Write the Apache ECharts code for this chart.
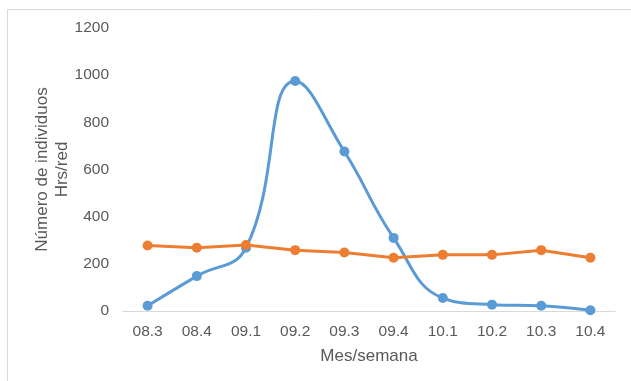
<!DOCTYPE html>
<html>
<head>
<meta charset="utf-8">
<script src="https://cdn.jsdelivr.net/npm/echarts@6/dist/echarts.min.js"></script>
<style>
  html, body { margin: 0; padding: 0; background: #ffffff; }
  #chart { width: 631px; height: 381px; }
</style>
</head>
<body>
<div id="chart"></div>
<script>
// Week labels (month.week)
const weeks = ['08.3', '08.4', '09.1', '09.2', '09.3', '09.4', '10.1', '10.2', '10.3', '10.4'];
// Individuals per net-hour, two series
const seriesBlue = [22, 148, 268, 975, 676, 310, 55, 27, 22, 3];
const seriesOrange = [278, 268, 280, 258, 248, 226, 238, 238, 258, 226];
// Value axis range
const yMin = 0;
const yMax = 1200;
const yStep = 200;

const textColor = '#595959';
const fontFamily = '"Liberation Sans", Arial, sans-serif';

const chart = echarts.init(document.getElementById('chart'), null, { renderer: 'canvas' });

chart.setOption({
  animation: false,
  backgroundColor: '#ffffff',
  graphic: [{
    type: 'rect',
    shape: { x: 7.5, y: 9.5, width: 700, height: 500 },
    style: { fill: 'none', stroke: '#d9d9d9', lineWidth: 1 },
    silent: true,
    z: -1
  }],
  grid: { left: 123, right: 16, top: 28, bottom: 70 },
  xAxis: {
    type: 'category',
    data: weeks,
    boundaryGap: true,
    name: 'Mes/semana',
    nameLocation: 'middle',
    nameGap: 37,
    nameMoveOverlap: false,
    nameTextStyle: { color: textColor, fontSize: 17, fontFamily: fontFamily },
    axisLine: { show: true, lineStyle: { color: '#d9d9d9', width: 1 } },
    axisTick: { show: false },
    axisLabel: { color: textColor, fontSize: 15.5, fontFamily: fontFamily, margin: 13 },
    splitLine: { show: false }
  },
  yAxis: {
    type: 'value',
    min: yMin,
    max: yMax,
    interval: yStep,
    name: 'Número de individuos\nHrs/red',
    nameLocation: 'middle',
    nameGap: 51,
    nameMoveOverlap: false,
    nameTextStyle: { color: textColor, fontSize: 17, fontFamily: fontFamily, lineHeight: 20 },
    axisLine: { show: false },
    axisTick: { show: false },
    axisLabel: {
      color: textColor, fontSize: 15.5, fontFamily: fontFamily, margin: 14,
      formatter: function (v) { return String(v); }
    },
    splitLine: { show: false }
  },
  series: [
    {
      type: 'line',
      data: seriesBlue,
      smooth: 0.45,
      symbol: 'circle',
      symbolSize: 10,
      lineStyle: { color: '#5b9bd5', width: 3 },
      itemStyle: { color: '#5b9bd5' },
      z: 2
    },
    {
      type: 'line',
      data: seriesOrange,
      smooth: false,
      symbol: 'circle',
      symbolSize: 10,
      lineStyle: { color: '#ed7d31', width: 3 },
      itemStyle: { color: '#ed7d31' },
      z: 3
    }
  ]
});
</script>
</body>
</html>
